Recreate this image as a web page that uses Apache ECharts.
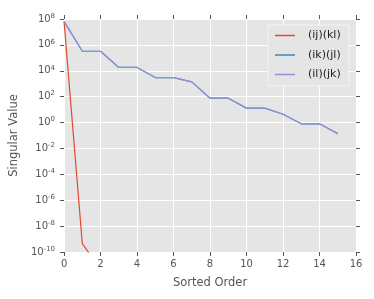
<!DOCTYPE html>
<html><head><meta charset="utf-8">
<script src="https://cdn.jsdelivr.net/npm/echarts@6/dist/echarts.min.js"></script>
<style>html,body{margin:0;padding:0;background:#fff}#c{width:374px;height:299px}</style>
</head><body><div id="c"></div>
<script>
const seriesNames = ['(ij)(kl)', '(ik)(jl)', '(il)(jk)'];
const order = [0,1,2,3,4,5,6,7,8,9,10,11,12,13,14,15];
const ijkl = [6.6e7, 4.4e-10, 4.5e-12];
const ikjl = [6.6e7, 3.2e5, 3.2e5, 1.8e4, 1.8e4, 3.0e3, 3.0e3, 1.4e3, 76, 76, 13, 13, 4.4, 0.8, 0.8, 0.14];
const iljk = [6.6e7, 3.2e5, 3.2e5, 1.8e4, 1.8e4, 3.0e3, 3.0e3, 1.4e3, 76, 76, 13, 13, 4.4, 0.8, 0.8, 0.14];
const xTicks = [0,2,4,6,8,10,12,14,16];
const yTickExps = [-10,-8,-6,-4,-2,0,2,4,6,8];
const colors = ['#E24A33', '#348ABD', '#988ED5'];

const font = 'DejaVu Sans';
const toPts = arr => arr.map((v, i) => [order[i], Math.log10(v)]);
const tickStyle = {show: true, inside: false, length: 4, lineStyle: {color: '#555', width: 1}};
const noLine = {show: false, onZero: false};
const lineIcon = 'path://M0,0L40,0L40,3L0,3Z';

const chart = echarts.init(document.getElementById('c'), null, {renderer: 'canvas'});
chart.setOption({
  animation: false,
  backgroundColor: '#fff',
  grid: {left: 64, right: 18, top: 19, bottom: 47, show: true, backgroundColor: '#E5E5E5', borderWidth: 0},
  textStyle: {fontFamily: font},
  legend: {
    orient: 'vertical', left: 268, top: 25,
    padding: [5, 8, 6, 7],
    backgroundColor: '#E5E5E5', borderColor: '#F2F2F2', borderWidth: 1,
    itemWidth: 20, itemHeight: 10, itemGap: 8.5,
    textStyle: {fontFamily: font, fontSize: 11, color: '#222', padding: [0, 0, 0, 8]},
    data: seriesNames.map(n => ({name: n, icon: lineIcon}))
  },
  xAxis: [{
    type: 'value', min: xTicks[0], max: xTicks[xTicks.length-1], interval: 2,
    name: 'Sorted Order', nameLocation: 'middle', nameGap: 25,
    nameTextStyle: {fontFamily: font, fontSize: 11.5, color: '#555'},
    axisLine: noLine, axisTick: tickStyle,
    axisLabel: {fontFamily: font, fontSize: 10, color: '#555', margin: 7},
    splitLine: {show: true, lineStyle: {color: '#fff', width: 1}}
  }, {
    type: 'value', position: 'top', min: 0, max: 16, interval: 2,
    axisLine: noLine, axisTick: tickStyle, axisLabel: {show: false}, splitLine: {show: false}
  }],
  yAxis: [{
    type: 'value', min: yTickExps[0], max: yTickExps[yTickExps.length-1], interval: 2,
    name: 'Singular Value', nameLocation: 'middle', nameGap: 37,
    nameTextStyle: {fontFamily: font, fontSize: 11.5, color: '#555'},
    axisLine: noLine, axisTick: tickStyle,
    axisLabel: {
      margin: 9, color: '#555',
      formatter: v => '{b|10}{s|' + (v < 0 ? '-' + Math.abs(v) : v) + '}',
      rich: {
        b: {fontFamily: font, fontSize: 10, color: '#555'},
        s: {fontFamily: font, fontSize: 7, color: '#555', verticalAlign: 'top', padding: [0, 0, 6, 0]}
      }
    },
    splitLine: {show: true, lineStyle: {color: '#fff', width: 1}}
  }, {
    type: 'value', position: 'right', min: -10, max: 8, interval: 2,
    axisLine: noLine, axisTick: tickStyle, axisLabel: {show: false}, splitLine: {show: false}
  }],
  series: [
    {name: seriesNames[0], type: 'line', data: toPts(ijkl), symbol: 'none', clip: true, color: colors[0], lineStyle: {width: 1.2, color: colors[0]}},
    {name: seriesNames[1], type: 'line', data: toPts(ikjl), symbol: 'none', clip: true, color: colors[1], lineStyle: {width: 1.2, color: colors[1]}},
    {name: seriesNames[2], type: 'line', data: toPts(iljk), symbol: 'none', clip: true, color: colors[2], lineStyle: {width: 1.2, color: colors[2]}}
  ]
});
</script></body></html>
